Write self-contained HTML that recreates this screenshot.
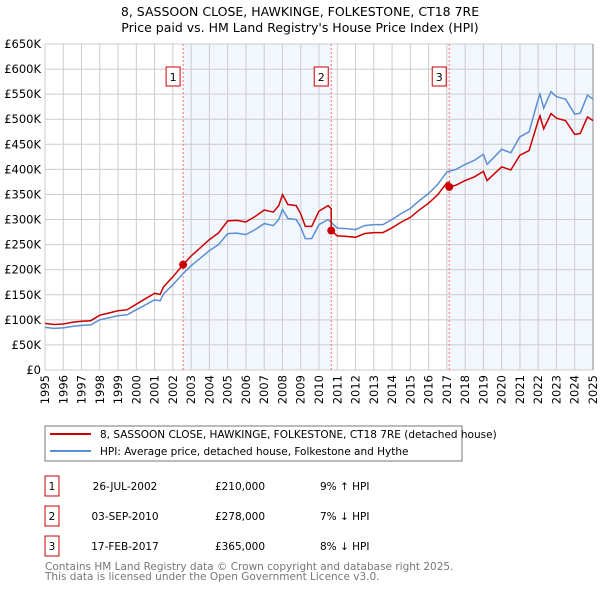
<!DOCTYPE html>
<html><head><meta charset="utf-8"><style>
body{margin:0;background:#fff;font-family:"DejaVu Sans","Liberation Sans",sans-serif}
svg text{font-family:"DejaVu Sans","Liberation Sans",sans-serif}
</style></head><body>
<svg id="c" width="600" height="590" viewBox="0 0 600 590">
<text x="300" y="16" text-anchor="middle" font-size="12.5">8, SASSOON CLOSE, HAWKINGE, FOLKESTONE, CT18 7RE</text>
<text x="300" y="32" text-anchor="middle" font-size="12.5">Price paid vs. HM Land Registry's House Price Index (HPI)</text>
<g id="plot"></g>
<g>
<rect x="45" y="426" width="417" height="35" fill="#fff" stroke="#777"/>
<line x1="50" y1="434" x2="91" y2="434" stroke="#cc0000" stroke-width="2"/>
<text x="100" y="438" font-size="10.5">8, SASSOON CLOSE, HAWKINGE, FOLKESTONE, CT18 7RE (detached house)</text>
<line x1="50" y1="451" x2="91" y2="451" stroke="#5b8fd4" stroke-width="2"/>
<text x="100" y="455" font-size="10.5">HPI: Average price, detached house, Folkestone and Hythe</text>
</g>
<g id="tbl" font-size="10.5"></g>
<text x="45" y="570" font-size="10.5" fill="#777">Contains HM Land Registry data © Crown copyright and database right 2025.</text>
<text x="45" y="580" font-size="10.5" fill="#777">This data is licensed under the Open Government Licence v3.0.</text>
</svg>
<script>
const hpiYears=[1995,1995.5,1996,1996.5,1997,1997.5,1998,1998.5,1999,1999.5,2000,2000.5,2001,2001.3,2001.5,2002,2002.5,2003,2003.5,2004,2004.5,2005,2005.5,2006,2006.5,2007,2007.5,2007.8,2008,2008.3,2008.75,2009,2009.25,2009.6,2010,2010.5,2011,2011.5,2012,2012.5,2013,2013.5,2014,2014.5,2015,2015.5,2016,2016.5,2017,2017.5,2018,2018.5,2019,2019.2,2019.6,2020,2020.5,2021,2021.5,2022,2022.1,2022.3,2022.7,2023,2023.5,2024,2024.3,2024.7,2025];
const hpiValues=[85,83,84,87,89,90,100,104,108,110,120,130,140,138,152,170,190,208,223,238,250,272,273,270,280,292,288,300,320,302,300,285,262,262,290,300,283,282,280,288,290,290,300,312,322,338,352,370,395,400,410,418,430,410,425,440,433,465,475,540,550,522,555,545,540,510,512,548,540];
const saleDates=[2002.56,2010.67,2017.13];
const salePrices=[210,278,365];
const saleLabels=["1","2","3"];
const saleDateText=["26-JUL-2002","03-SEP-2010","17-FEB-2017"];
const salePriceText=["£210,000","£278,000","£365,000"];
const saleHpiText=["9% ↑ HPI","7% ↓ HPI","8% ↓ HPI"];
const yTicks=[0,50,100,150,200,250,300,350,400,450,500,550,600,650];
const yTickLabels=["£0","£50K","£100K","£150K","£200K","£250K","£300K","£350K","£400K","£450K","£500K","£550K","£600K","£650K"];
const xTicks=[1995,1996,1997,1998,1999,2000,2001,2002,2003,2004,2005,2006,2007,2008,2009,2010,2011,2012,2013,2014,2015,2016,2017,2018,2019,2020,2021,2022,2023,2024,2025];

const X0=45,X1=593,Y0=370,Y1=44;
const xs=t=>X0+(t-1995)/30*(X1-X0);
const ys=v=>Y0-v/650*(Y0-Y1);
const NS="http://www.w3.org/2000/svg";
const plot=document.getElementById('plot');
function mk(tag,attrs,parent){const e=document.createElementNS(NS,tag);for(const k in attrs)e.setAttribute(k,attrs[k]);(parent||plot).appendChild(e);return e;}
function hpiAt(t){for(let i=1;i<hpiYears.length;i++){if(t<=hpiYears[i]){const f=(t-hpiYears[i-1])/(hpiYears[i]-hpiYears[i-1]);return hpiValues[i-1]+f*(hpiValues[i]-hpiValues[i-1]);}}return hpiValues[hpiValues.length-1];}

let r=mk('rect',{x:X0,y:Y1,width:X1-X0,height:Y0-Y1,fill:'#fff'});

const shadeEnds=[saleDates[1],2025];
[[saleDates[0],saleDates[1]],[saleDates[2],2025]].forEach((s,i)=>{const e=mk('rect',{x:xs(s[0]),y:Y1,width:xs(s[1])-xs(s[0]),height:Y0-Y1,fill:'#eef3fc',opacity:0.75});
});
yTicks.forEach((v,i)=>{const l=mk('line',{x1:X0,x2:X1,y1:ys(v),y2:ys(v),stroke:'#ccc'});

const t=mk('text',{x:X0-4,y:ys(v)+4,'text-anchor':'end','font-size':'11.5'});t.textContent=yTickLabels[i];
});
xTicks.forEach(v=>{const l=mk('line',{x1:xs(v),x2:xs(v),y1:Y1,y2:Y0,stroke:'#ccc'});

const x=xs(v)+4,y=Y0+5;const t=mk('text',{x:x,y:y,'text-anchor':'end','font-size':'11.5',transform:`rotate(-90 ${x} ${y})`});t.textContent=v;
});
let ax=mk('line',{x1:X1,x2:X1,y1:Y1,y2:Y0,stroke:'#888'});
saleDates.forEach((d,i)=>{const l=mk('line',{x1:xs(d),x2:xs(d),y1:Y1,y2:Y0,stroke:'#f07070','stroke-dasharray':'2,2'});

const b=mk('rect',{x:xs(d)-17,y:67,width:14,height:19,fill:'#fff',stroke:'#cc0000'});

const t=mk('text',{x:xs(d)-10,y:81,'text-anchor':'middle','font-size':'11'});t.textContent=saleLabels[i];
});
// HPI line
let p='';hpiYears.forEach((t,i)=>{p+=(i?'L':'M')+xs(t).toFixed(1)+','+ys(hpiValues[i]).toFixed(1);});
let hl=mk('path',{d:p,fill:'none',stroke:'#5b8fd4','stroke-width':1.5});
// property line: HPI scaled to each sale
const ratios=saleDates.map((d,i)=>salePrices[i]/hpiAt(d));
let q='';let first=true;
const seg=t=>t<saleDates[1]?0:(t<saleDates[2]?1:2);
hpiYears.forEach((t,i)=>{const k=seg(t);});
let pts=[];
hpiYears.forEach((t,i)=>pts.push([t,hpiValues[i]*ratios[seg(t)]]));
saleDates.forEach((d,i)=>{if(i>0)pts.push([d-0.001,hpiAt(d)*ratios[i-1]]);pts.push([d,salePrices[i]]);});
pts.sort((a,b)=>a[0]-b[0]);
pts.forEach((pt,i)=>{q+=(i?'L':'M')+xs(pt[0]).toFixed(1)+','+ys(pt[1]).toFixed(1);});
let rl=mk('path',{d:q,fill:'none',stroke:'#cc0000','stroke-width':1.5});
saleDates.forEach((d,i)=>{const c=mk('circle',{cx:xs(d),cy:ys(salePrices[i]),r:4,fill:'#cc0000'});
});
// table
const tbl=document.getElementById('tbl');
saleDates.forEach((d,i)=>{const y=486+i*30;
const b=mk('rect',{x:45,y:y-10,width:14,height:20,fill:'#fff',stroke:'#cc0000'},tbl);

const cols=[[52,saleLabels[i],'middle'],[125,saleDateText[i],'middle'],[240,salePriceText[i],'middle'],[320,saleHpiText[i],'start']];
const names=['table-index','table-date','table-price','table-hpi-diff'];
cols.forEach((c,j)=>{const t=mk('text',{x:c[0],y:y+4,'text-anchor':c[2]},tbl);t.textContent=c[1];
});});
</script>
</body></html>
